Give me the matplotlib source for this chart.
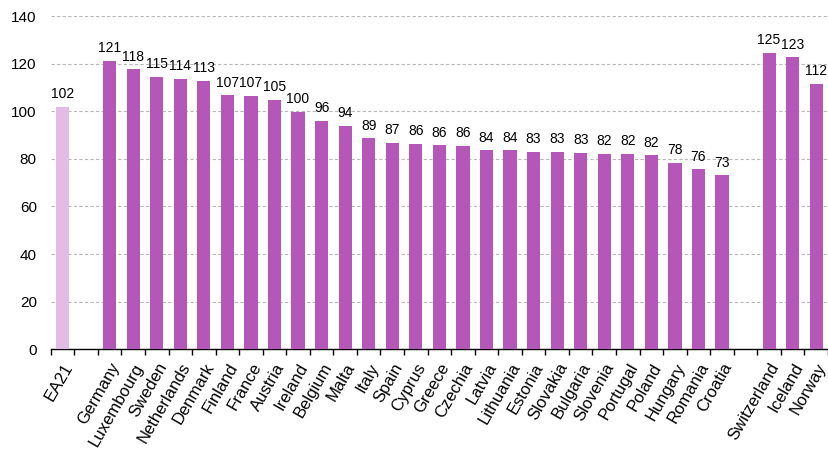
import matplotlib
matplotlib.use("Agg")
import matplotlib.pyplot as plt
import numpy as np

plt.rcParams['font.family'] = ['Liberation Sans', 'DejaVu Sans']

# Data
aggregate = ["EA21"]
aggregate_values = [101.8]
countries = ["Germany", "Luxembourg", "Sweden", "Netherlands", "Denmark", "Finland",
             "France", "Austria", "Ireland", "Belgium", "Malta", "Italy", "Spain",
             "Cyprus", "Greece", "Czechia", "Latvia", "Lithuania", "Estonia",
             "Slovakia", "Bulgaria", "Slovenia", "Portugal", "Poland", "Hungary",
             "Romania", "Croatia"]
country_values = [121.1, 117.6, 114.6, 113.6, 112.7, 106.8, 106.6, 104.8, 99.7, 95.9,
                  93.8, 88.6, 86.7, 86.3, 85.8, 85.6, 83.7, 83.7, 82.9, 82.9, 82.6,
                  82.1, 82.1, 81.6, 78.3, 75.7, 73.2]
others = ["Switzerland", "Iceland", "Norway"]
other_values = [124.6, 122.6, 111.6]

# Slot layout: aggregate, blank, countries, blank, others
labels = aggregate + [""] + countries + [""] + others
pos_agg = [0]
pos_cty = list(range(2, 2 + len(countries)))
pos_oth = list(range(3 + len(countries), 3 + len(countries) + len(others)))
n_slots = 3 + len(countries) + len(others)

main_color = "#B556B9"
light_color = "#E2BCE4"

fig = plt.figure(figsize=(8.29, 4.59), dpi=100)
ax = fig.add_axes([0.0612, 0.239, 0.9376, 0.726])

w = 0.56
b1 = ax.bar(pos_agg, aggregate_values, width=w, color=light_color, zorder=3)
b2 = ax.bar(pos_cty, country_values, width=w, color=main_color, zorder=3)
b3 = ax.bar(pos_oth, other_values, width=w, color=main_color, zorder=3)
for b in (b1, b2, b3):
    ax.bar_label(b, fmt="%.0f", padding=4, fontsize=10)

ax.set_xlim(-0.5, n_slots - 0.5)
ax.set_ylim(0, 140)
ax.set_yticks(np.arange(0, 141, 20))
ax.tick_params(axis='y', length=0, labelsize=11, pad=10)

ax.set_xticks(range(n_slots))
ax.set_xticklabels(labels, rotation=60, ha='right', rotation_mode='anchor', fontsize=12)
ax.tick_params(axis='x', which='major', length=0, pad=8)
ax.set_xticks(np.arange(-0.5, n_slots, 1), minor=True)
ax.tick_params(axis='x', which='minor', length=4, width=1, color='black')

ax.yaxis.grid(True, linestyle=(0, (3, 2)), color='#B8B8B8', linewidth=0.8, zorder=0)
ax.set_axisbelow(True)
for s in ('top', 'right', 'left'):
    ax.spines[s].set_visible(False)
ax.spines['bottom'].set_color('black')
ax.spines['bottom'].set_linewidth(1)

fig.savefig("out.png", dpi=100)
